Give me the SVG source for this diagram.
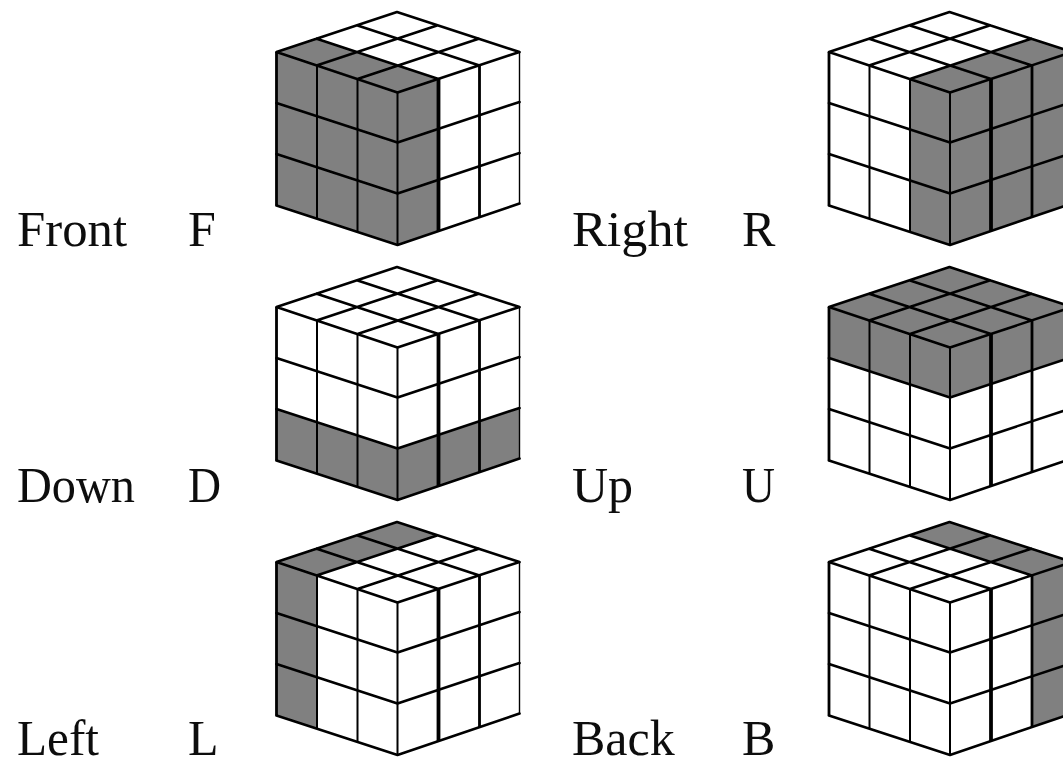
<svg xmlns="http://www.w3.org/2000/svg" width="1063" height="761" viewBox="0 0 1063 761">
<style>
.bg{fill:#fff}
.face{fill:#fff}
.g{fill:#808080}
.soft{filter:url(#soft)}
.d{fill:none;stroke:#000;stroke-width:2.6;stroke-linejoin:round;stroke-linecap:round}
.v{fill:none;stroke:#000;stroke-width:2}
.e{fill:none;stroke:#000;stroke-width:1.4}
.th1{fill:none;stroke:#000;stroke-width:2.8}
.th2{fill:none;stroke:#000;stroke-width:3.8}
text{font-family:"Liberation Serif","Times New Roman",serif;font-size:50px;fill:#111}
</style>
<defs>
<filter id="soft" x="-5%" y="-5%" width="110%" height="110%"><feGaussianBlur stdDeviation="0.45"/></filter>
<g id="grid">
<path class="d" d="M397 12L276.5 52M437.8 25.3L317.3 65.3M478.7 38.7L358.2 78.7M519.5 52L397.5 92.5M397 12L519.5 52M356.8 25.3L479.5 65.5M316.7 38.7L438.5 79M276.5 52L397.5 92.5"/>
<path class="v" d="M317 65.3V218.7M357.5 78.7V232M397.5 92.5V245"/>
<path class="e" d="M519.5 52V203.5"/>
<path class="d" d="M276.5 103L397.5 142.5L519.5 102M276.5 154L397.5 193.5L519.5 153M276.5 205.5L397.5 245L519.5 203.5"/>
<path class="th1" d="M276.5 52V205.5M479.5 65.5V217"/>
<path class="th2" d="M438.5 79V231"/>
</g>
<polygon id="body" points="397,12 519.5,52 519.5,203.5 397.5,245 276.5,205.5 276.5,52"/>
</defs>
<rect class="bg" width="1063" height="761"/>

<g id="cube-front" class="soft">
<use href="#body" class="face"/>
<polygon class="g" points="316.7,38.7 439.2,78.7 438.5,231 397.5,245 276.5,205.5 276.5,52"/>
<use href="#grid"/>
</g>
<g id="cube-right" class="soft" transform="translate(552.5 0)">
<use href="#body" class="face"/>
<polygon class="g" points="478.7,38.7 519.5,52 519.5,203.5 397.5,245 357.5,232 357.5,78.7"/>
<use href="#grid"/>
</g>
<g id="cube-down" class="soft" transform="translate(0 255)">
<use href="#body" class="face"/>
<polygon class="g" points="276.5,154 397.5,193.5 519.5,153 519.5,203.5 397.5,245 276.5,205.5"/>
<use href="#grid"/>
</g>
<g id="cube-up" class="soft" transform="translate(552.5 255)">
<use href="#body" class="face"/>
<polygon class="g" points="397,12 519.5,52 519.5,102 397.5,142.5 276.5,103 276.5,52"/>
<use href="#grid"/>
</g>
<g id="cube-left" class="soft" transform="translate(0 510)">
<use href="#body" class="face"/>
<polygon class="g" points="397,12 437.8,25.3 317.3,65.3 317,218.7 276.5,205.5 276.5,52"/>
<use href="#grid"/>
</g>
<g id="cube-back" class="soft" transform="translate(552.5 510)">
<use href="#body" class="face"/>
<polygon class="g" points="397,12 519.5,52 519.5,203.5 479.5,217 479.5,65.5 356.8,25.3"/>
<use href="#grid"/>
</g>

<g id="labels" class="soft">
<text x="17" y="245.5" textLength="110" lengthAdjust="spacingAndGlyphs">Front</text><text x="188" y="245.5">F</text>
<text x="572" y="245.5" textLength="116" lengthAdjust="spacingAndGlyphs">Right</text><text x="742" y="245.5">R</text>
<text x="17" y="501.5" textLength="118" lengthAdjust="spacingAndGlyphs">Down</text><text x="188" y="501.5" textLength="33" lengthAdjust="spacingAndGlyphs">D</text>
<text x="572" y="501.5">Up</text><text x="742" y="501.5" textLength="33" lengthAdjust="spacingAndGlyphs">U</text>
<text x="17" y="755" textLength="82" lengthAdjust="spacingAndGlyphs">Left</text><text x="188" y="755">L</text>
<text x="572" y="755">Back</text><text x="742" y="755">B</text>
</g>
</svg>
